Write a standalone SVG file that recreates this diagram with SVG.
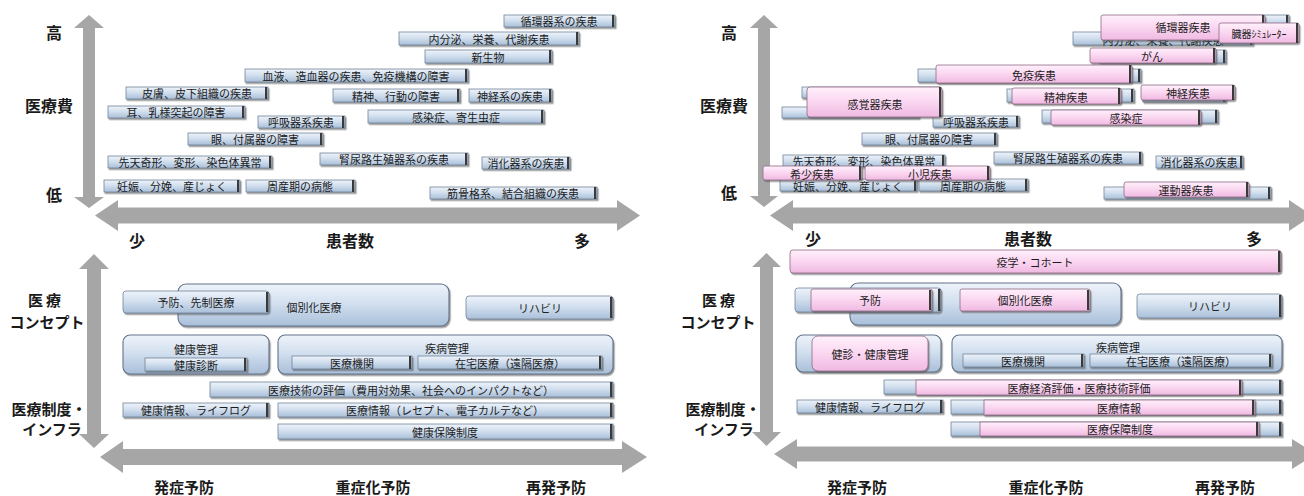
<svg xmlns="http://www.w3.org/2000/svg" width="1304" height="496" viewBox="0 0 1304 496">
<defs>
<linearGradient id="gb" x1="0" y1="0" x2="0" y2="1">
<stop offset="0" stop-color="#eef3fa"/><stop offset="0.45" stop-color="#d3e0ef"/><stop offset="1" stop-color="#a9bfd9"/>
</linearGradient>
<linearGradient id="gp" x1="0" y1="0" x2="0" y2="1">
<stop offset="0" stop-color="#fff0fb"/><stop offset="0.45" stop-color="#fbd9f2"/><stop offset="1" stop-color="#f0b9e2"/>
</linearGradient>
<filter id="sh" x="-5%" y="-20%" width="115%" height="160%">
<feDropShadow dx="1.2" dy="1.6" stdDeviation="0.7" flood-color="#555" flood-opacity="0.6"/>
</filter>
</defs>
<style>
.b{fill:url(#gb);stroke:#72849a;stroke-width:0.8;filter:url(#sh)}
.p{fill:url(#gp);stroke:#8d6a86;stroke-width:0.8;filter:url(#sh)}
.bb{fill:url(#gb);stroke:#62738a;stroke-width:1.1;filter:url(#sh)}
.r{fill:#3a3a3a}
.t{font-family:"Noto Sans CJK JP","Noto Sans CJK SC",sans-serif;font-size:11px;fill:#1c1c1c;text-anchor:middle;dominant-baseline:central}
.ax{font-family:"Noto Sans CJK JP","Noto Sans CJK SC",sans-serif;font-size:16px;font-weight:bold;fill:#1a1a1a;text-anchor:middle;dominant-baseline:central}
.ax2{font-family:"Noto Sans CJK JP","Noto Sans CJK SC",sans-serif;font-size:15px;font-weight:bold;fill:#1a1a1a;text-anchor:middle;dominant-baseline:central}
.arr{fill:#a6a6a6}
</style>
<rect width="1304" height="496" fill="#ffffff"/>

<g id="axes">
<polygon class="arr" points="89,15 104,28 95,28 95,197 104,197 89,208 74,197 83,197 83,28 74,28"/>
<polygon class="arr" points="95,215.5 118,200 118,207.5 617,207.5 617,200 640,215.5 617,231 617,223.5 118,223.5 118,231"/>
<polygon class="arr" points="764,15 778,28 770,28 770,196 778,196 764,207 750,196 758,196 758,28 750,28"/>
<polygon class="arr" points="770,215.5 793,200 793,207.5 1289,207.5 1289,200 1312,215.5 1289,231 1289,223.5 793,223.5 793,231"/>
<polygon class="arr" points="94,254 109,269 101,269 101,434 109,434 94,448 79,434 87,434 87,269 79,269"/>
<polygon class="arr" points="100,457 123,441 123,449 622,449 622,441 647,457 622,473 622,465 123,465 123,473"/>
<polygon class="arr" points="766.5,253 781,267 773,267 773,432 781,432 766.5,446 752,432 760,432 760,267 752,267"/>
<polygon class="arr" points="774,454 797,439 797,446.5 1292,446.5 1292,439 1316,454 1292,469 1292,461.5 797,461.5 797,469"/>
</g>

<g id="axis-labels">
<text class="ax" x="54" y="32">高</text>
<text class="ax" x="49" y="105">医療費</text>
<text class="ax" x="54" y="194">低</text>
<text class="ax" x="137" y="240">少</text>
<text class="ax" x="350" y="240">患者数</text>
<text class="ax" x="582" y="240">多</text>
<text class="ax" x="729" y="32">高</text>
<text class="ax" x="724" y="105">医療費</text>
<text class="ax" x="729" y="192">低</text>
<text class="ax" x="813" y="238">少</text>
<text class="ax" x="1028" y="238">患者数</text>
<text class="ax" x="1254" y="238">多</text>
<text class="ax2" x="46" y="299" letter-spacing="3">医療</text>
<text class="ax2" x="47" y="321">コンセプト</text>
<text class="ax2" x="49" y="408">医療制度・</text>
<text class="ax2" x="52" y="428">インフラ</text>
<text class="ax2" x="184" y="486">発症予防</text>
<text class="ax2" x="373" y="486">重症化予防</text>
<text class="ax2" x="556" y="486">再発予防</text>
<text class="ax2" x="720" y="299" letter-spacing="3">医療</text>
<text class="ax2" x="718" y="321">コンセプト</text>
<text class="ax2" x="723" y="408">医療制度・</text>
<text class="ax2" x="724" y="428">インフラ</text>
<text class="ax2" x="857" y="486">発症予防</text>
<text class="ax2" x="1046" y="486">重症化予防</text>
<text class="ax2" x="1225" y="486">再発予防</text>
</g>

<!-- Left top: diseases -->
<g id="L-junkanki"><rect class="b" x="504" y="15" width="111" height="12"/><rect class="r" x="612" y="15" width="2.2" height="12"/><text class="t" x="559" y="21">循環器系の疾患</text></g>
<g id="L-naibunpi"><rect class="b" x="399" y="32" width="180" height="13"/><rect class="r" x="576" y="32" width="2.2" height="13"/><text class="t" x="489" y="38.5">内分泌、栄養、代謝疾患</text></g>
<g id="L-shinseibutsu"><rect class="b" x="425" y="50" width="127" height="13"/><rect class="r" x="549" y="50" width="2.2" height="13"/><text class="t" x="488" y="56.5">新生物</text></g>
<g id="L-ketsueki"><rect class="b" x="245" y="69" width="223" height="13"/><rect class="r" x="465" y="69" width="2.2" height="13"/><text class="t" x="356" y="75.5">血液、造血器の疾患、免疫機構の障害</text></g>
<g id="L-hifu"><rect class="b" x="126" y="87" width="142" height="12"/><rect class="r" x="265" y="87" width="2.2" height="12"/><text class="t" x="197" y="93">皮膚、皮下組織の疾患</text></g>
<g id="L-seishin"><rect class="b" x="333" y="89" width="127" height="13"/><rect class="r" x="457" y="89" width="2.2" height="13"/><text class="t" x="396" y="95.5">精神、行動の障害</text></g>
<g id="L-shinkei"><rect class="b" x="469" y="89" width="83" height="13"/><rect class="r" x="549" y="89" width="2.2" height="13"/><text class="t" x="510" y="95.5">神経系の疾患</text></g>
<g id="L-mimi"><rect class="b" x="108" y="106" width="137" height="12"/><rect class="r" x="242" y="106" width="2.2" height="12"/><text class="t" x="176" y="112">耳、乳様突起の障害</text></g>
<g id="L-kansen"><rect class="b" x="368" y="110" width="176" height="13"/><rect class="r" x="541" y="110" width="2.2" height="13"/><text class="t" x="456" y="116.5">感染症、寄生虫症</text></g>
<g id="L-kokyuki"><rect class="b" x="258" y="116" width="87" height="12"/><rect class="r" x="342" y="116" width="2.2" height="12"/><text class="t" x="301" y="122">呼吸器系疾患</text></g>
<g id="L-me"><rect class="b" x="188" y="133" width="135" height="12"/><rect class="r" x="320" y="133" width="2.2" height="12"/><text class="t" x="255" y="139">眼、付属器の障害</text></g>
<g id="L-jinnyoro"><rect class="b" x="320" y="153" width="148" height="12"/><rect class="r" x="465" y="153" width="2.2" height="12"/><text class="t" x="394" y="159">腎尿路生殖器系の疾患</text></g>
<g id="L-sentenkikei"><rect class="b" x="108" y="156" width="164" height="12"/><rect class="r" x="269" y="156" width="2.2" height="12"/><text class="t" x="190" y="162">先天奇形、変形、染色体異常</text></g>
<g id="L-shokaki"><rect class="b" x="482" y="157" width="88" height="12"/><rect class="r" x="567" y="157" width="2.2" height="12"/><text class="t" x="526" y="163">消化器系の疾患</text></g>
<g id="L-ninshin"><rect class="b" x="104" y="180" width="136" height="12"/><rect class="r" x="237" y="180" width="2.2" height="12"/><text class="t" x="172" y="186">妊娠、分娩、産じょく</text></g>
<g id="L-shusanki"><rect class="b" x="246" y="180" width="109" height="12"/><rect class="r" x="352" y="180" width="2.2" height="12"/><text class="t" x="300" y="186">周産期の病態</text></g>
<g id="L-kinkokkaku"><rect class="b" x="430" y="187" width="167" height="12"/><rect class="r" x="594" y="187" width="2.2" height="12"/><text class="t" x="513" y="193">筋骨格系、結合組織の疾患</text></g>

<!-- Right top: blue underlay -->
<g id="R-junkanki-b"><rect class="b" x="1178" y="15" width="111" height="12"/><rect class="r" x="1286" y="15" width="2.2" height="12"/></g>
<g id="R-naibunpi-b"><rect class="b" x="1073" y="32" width="180" height="13"/><rect class="r" x="1250" y="32" width="2.2" height="13"/><text class="t" x="1163" y="39.5">内分泌、栄養、代謝疾患</text></g>
<g id="R-shinseibutsu-b"><rect class="b" x="1099" y="50" width="127" height="13"/><rect class="r" x="1223" y="50" width="2.2" height="13"/></g>
<g id="R-ketsueki-b"><rect class="b" x="918" y="69" width="223" height="13"/><rect class="r" x="1138" y="69" width="2.2" height="13"/></g>
<g id="R-hifu-b"><rect class="b" x="802" y="87" width="138" height="11"/></g>
<g id="R-seishin-b"><rect class="b" x="1007" y="89" width="127" height="13"/><rect class="r" x="1131" y="89" width="2.2" height="13"/></g>
<g id="R-shinkei-b"><rect class="b" x="1143" y="89" width="83" height="13"/><rect class="r" x="1223" y="89" width="2.2" height="13"/></g>
<g id="R-mimi-b"><rect class="b" x="782" y="107" width="137" height="11"/></g>
<g id="R-kansen-b"><rect class="b" x="1042" y="110" width="176" height="13"/><rect class="r" x="1215" y="110" width="2.2" height="13"/></g>
<g id="R-kokyuki"><rect class="b" x="933" y="116" width="86" height="11"/><rect class="r" x="1016" y="116" width="2.2" height="11"/><text class="t" x="976" y="121.5">呼吸器系疾患</text></g>
<g id="R-me"><rect class="b" x="862" y="133" width="135" height="12"/><rect class="r" x="994" y="133" width="2.2" height="12"/><text class="t" x="929" y="139">眼、付属器の障害</text></g>
<g id="R-jinnyoro"><rect class="b" x="994" y="152" width="148" height="12"/><rect class="r" x="1139" y="152" width="2.2" height="12"/><text class="t" x="1068" y="158">腎尿路生殖器系の疾患</text></g>
<g id="R-sentenkikei"><rect class="b" x="783" y="155" width="162" height="12"/><rect class="r" x="942" y="155" width="2.2" height="12"/><text class="t" x="864" y="160.5">先天奇形、変形、染色体異常</text></g>
<g id="R-shokaki"><rect class="b" x="1156" y="156" width="87" height="12"/><rect class="r" x="1240" y="156" width="2.2" height="12"/><text class="t" x="1199" y="162">消化器系の疾患</text></g>
<g id="R-ninshin"><rect class="b" x="780" y="179" width="137" height="12"/><rect class="r" x="914" y="179" width="2.2" height="12"/><text class="t" x="848" y="185.5">妊娠、分娩、産じょく</text></g>
<g id="R-shusanki"><rect class="b" x="919" y="179" width="109" height="12"/><rect class="r" x="1025" y="179" width="2.2" height="12"/><text class="t" x="973" y="185.5">周産期の病態</text></g>
<g id="R-kinkokkaku-b"><rect class="b" x="1104" y="187" width="167" height="12"/><rect class="r" x="1268" y="187" width="2.2" height="12"/></g>

<!-- Right top: pink overlays -->
<g id="R-junkanki"><rect class="p" x="1101" y="15" width="164" height="25" rx="2"/><rect class="r" x="1262" y="15" width="2.2" height="25"/><text class="t" x="1183" y="26.5">循環器疾患</text></g>
<g id="R-zouki"><rect class="p" x="1219" y="23" width="80" height="20" rx="2"/><rect class="r" x="1296" y="23" width="2.2" height="20"/><text class="t" x="1259" y="33.5" style="font-size:10px">臓器ｼﾐｭﾚｰﾀｰ</text></g>
<g id="R-gan"><rect class="p" x="1090" y="48" width="126" height="15" rx="2"/><rect class="r" x="1213" y="48" width="2.2" height="15"/><text class="t" x="1152" y="56">がん</text></g>
<g id="R-meneki"><rect class="p" x="936" y="65" width="196" height="18" rx="2"/><rect class="r" x="1129" y="65" width="2.2" height="18"/><text class="t" x="1034" y="75">免疫疾患</text></g>
<g id="R-kankaku"><rect class="p" x="807" y="87" width="135" height="30" rx="3"/><rect class="r" x="939" y="87" width="2.2" height="30"/><text class="t" x="875" y="104">感覚器疾患</text></g>
<g id="R-seishin"><rect class="p" x="1012" y="88" width="109" height="16" rx="2"/><rect class="r" x="1118" y="88" width="2.2" height="16"/><text class="t" x="1066" y="96.5">精神疾患</text></g>
<g id="R-shinkei"><rect class="p" x="1141" y="85" width="94" height="15" rx="2"/><rect class="r" x="1232" y="85" width="2.2" height="15"/><text class="t" x="1188" y="92.5">神経疾患</text></g>
<g id="R-kansen"><rect class="p" x="1051" y="110" width="150" height="15" rx="2"/><rect class="r" x="1198" y="110" width="2.2" height="15"/><text class="t" x="1126" y="117.5">感染症</text></g>
<g id="R-kishou"><rect class="p" x="763" y="166" width="99" height="14" rx="2"/><rect class="r" x="859" y="166" width="2.2" height="14"/><text class="t" x="812" y="173.5">希少疾患</text></g>
<g id="R-shouni"><rect class="p" x="865" y="166" width="125" height="14" rx="2"/><rect class="r" x="987" y="166" width="2.2" height="14"/><text class="t" x="930" y="173.5">小児疾患</text></g>
<g id="R-undouki"><rect class="p" x="1124" y="182" width="125" height="15" rx="2"/><rect class="r" x="1246" y="182" width="2.2" height="15"/><text class="t" x="1186" y="190">運動器疾患</text></g>

<!-- Left bottom -->
<g id="L-kobetsuka"><rect class="bb" x="178" y="284" width="271" height="42" rx="8"/><text class="t" x="314" y="307">個別化医療</text></g>
<g id="L-yobou"><rect class="b" x="123" y="291" width="146" height="22" rx="3"/><rect class="r" x="266" y="292" width="2.4" height="20"/><text class="t" x="196" y="302">予防、先制医療</text></g>
<g id="L-rehabili"><rect class="b" x="466" y="296" width="147" height="23" rx="3"/><rect class="r" x="610" y="297" width="2.4" height="21"/><text class="t" x="540" y="307.5">リハビリ</text></g>
<g id="L-kenkokanri"><rect class="bb" x="123" y="335" width="146" height="39" rx="7"/><text class="t" x="196" y="349">健康管理</text>
<rect class="b" x="145" y="358" width="102" height="13"/><rect class="r" x="244" y="358" width="2.2" height="13"/><text class="t" x="196" y="364.5">健康診断</text></g>
<g id="L-shippei"><rect class="bb" x="278" y="335" width="335" height="39" rx="7"/><text class="t" x="447" y="348">疾病管理</text>
<rect class="b" x="292" y="356" width="120" height="13"/><rect class="r" x="409" y="356" width="2.2" height="13"/><text class="t" x="352" y="362.5">医療機関</text>
<rect class="b" x="418" y="356" width="184" height="13"/><rect class="r" x="599" y="356" width="2.2" height="13"/><text class="t" x="510" y="362.5">在宅医療（遠隔医療）</text></g>
<g id="L-gijutsu"><rect class="b" x="210" y="382" width="403" height="15"/><rect class="r" x="610" y="382" width="2.4" height="15"/><text class="t" x="411" y="389.5">医療技術の評価（費用対効果、社会へのインパクトなど）</text></g>
<g id="L-kenkojoho"><rect class="b" x="123" y="403" width="146" height="14"/><rect class="r" x="266" y="403" width="2.4" height="14"/><text class="t" x="196" y="410">健康情報、ライフログ</text></g>
<g id="L-iryojoho"><rect class="b" x="278" y="403" width="335" height="14"/><rect class="r" x="610" y="403" width="2.4" height="14"/><text class="t" x="445" y="410">医療情報（レセプト、電子カルテなど）</text></g>
<g id="L-hoken"><rect class="b" x="278" y="424" width="335" height="15"/><rect class="r" x="610" y="424" width="2.4" height="15"/><text class="t" x="445" y="431.5">健康保険制度</text></g>

<!-- Right bottom -->
<g id="R-ekigaku"><rect class="p" x="790" y="250" width="491" height="23" rx="3"/><rect class="r" x="1278" y="251" width="2.4" height="21"/><text class="t" x="1035" y="261.5">疫学・コホート</text></g>
<g id="R-kobetsuka-b"><rect class="bb" x="850" y="283" width="271" height="42" rx="8"/></g>
<g id="R-yobou"><rect class="b" x="795" y="288" width="146" height="24" rx="3"/><rect class="r" x="938" y="289" width="2.4" height="22"/>
<rect class="p" x="811" y="289" width="121" height="22" rx="2"/><rect class="r" x="929" y="290" width="2.2" height="20"/><text class="t" x="870" y="300">予防</text></g>
<g id="R-kobetsuka"><rect class="p" x="960" y="289" width="130" height="22" rx="2"/><rect class="r" x="1087" y="290" width="2.2" height="20"/><text class="t" x="1025" y="300">個別化医療</text></g>
<g id="R-rehabili"><rect class="b" x="1137" y="294" width="145" height="24" rx="3"/><rect class="r" x="1279" y="295" width="2.4" height="22"/><text class="t" x="1210" y="306">リハビリ</text></g>
<g id="R-kenshin"><rect class="bb" x="796" y="335" width="145" height="37" rx="7"/>
<rect class="p" x="812" y="336" width="116" height="35" rx="6"/><text class="t" x="870" y="354">健診・健康管理</text></g>
<g id="R-shippei"><rect class="bb" x="952" y="335" width="330" height="37" rx="7"/><text class="t" x="1118" y="347">疾病管理</text>
<rect class="b" x="963" y="354" width="121" height="13"/><rect class="r" x="1081" y="354" width="2.2" height="13"/><text class="t" x="1023" y="360.5">医療機関</text>
<rect class="b" x="1090" y="354" width="182" height="13"/><rect class="r" x="1269" y="354" width="2.2" height="13"/><text class="t" x="1181" y="360.5">在宅医療（遠隔医療）</text></g>
<g id="R-keizai"><rect class="b" x="884" y="380" width="398" height="14"/><rect class="r" x="1279" y="380" width="2.4" height="14"/>
<rect class="p" x="916" y="380" width="326" height="15"/><rect class="r" x="1239" y="380" width="2.2" height="15"/><text class="t" x="1079" y="387.5">医療経済評価・医療技術評価</text></g>
<g id="R-kenkojoho"><rect class="b" x="797" y="400" width="146" height="13"/><rect class="r" x="940" y="400" width="2.4" height="13"/><text class="t" x="870" y="406.5">健康情報、ライフログ</text></g>
<g id="R-iryojoho"><rect class="b" x="951" y="400" width="331" height="14"/><rect class="r" x="1279" y="400" width="2.4" height="14"/>
<rect class="p" x="984" y="400" width="271" height="15"/><rect class="r" x="1252" y="400" width="2.2" height="15"/><text class="t" x="1119" y="407.5">医療情報</text></g>
<g id="R-hosho"><rect class="b" x="951" y="422" width="331" height="14"/><rect class="r" x="1279" y="422" width="2.4" height="14"/>
<rect class="p" x="980" y="422" width="279" height="14"/><rect class="r" x="1256" y="422" width="2.2" height="14"/><text class="t" x="1120" y="429">医療保障制度</text></g>
</svg>
